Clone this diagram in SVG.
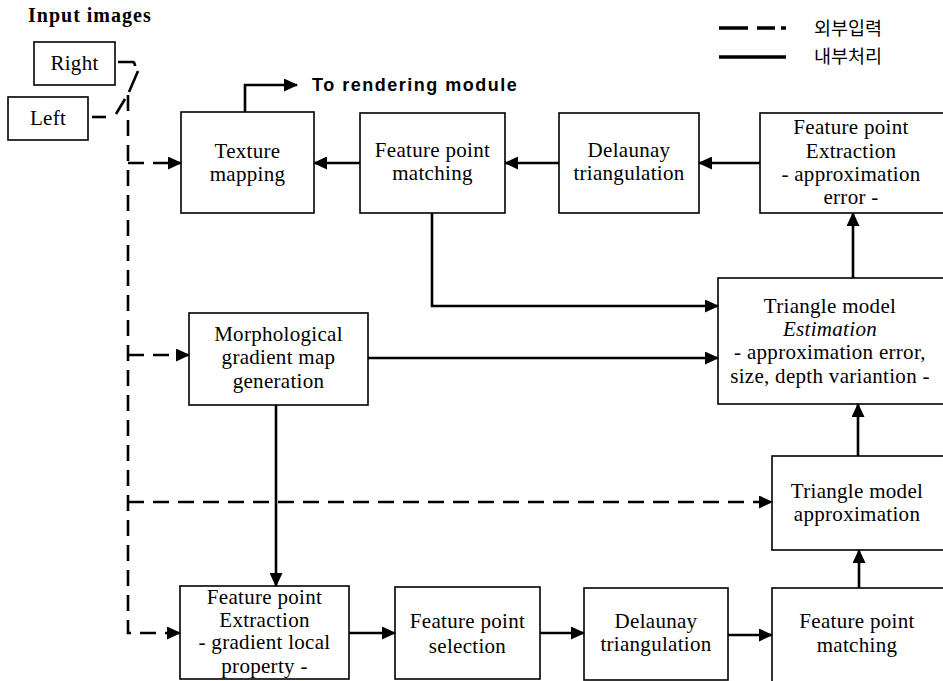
<svg xmlns="http://www.w3.org/2000/svg" width="943" height="681" viewBox="0 0 943 681">
<defs>
<style>
.box{fill:#fff;stroke:#000;stroke-width:1.6}
.t{font-family:"Liberation Serif","Times New Roman",serif;font-size:21px;letter-spacing:0.3px;fill:#000;text-anchor:middle}
.c{fill:none;stroke:#000;stroke-width:2.6}
.d{fill:none;stroke:#000;stroke-width:2.6;stroke-dasharray:16 9}
.ko{font-family:"Noto Sans CJK KR",sans-serif;font-size:18.5px;fill:#000}
</style>
<marker id="ah" viewBox="0 0 14 13" refX="13" refY="6.5" markerWidth="14" markerHeight="13" markerUnits="userSpaceOnUse" orient="auto">
<path d="M0,0 L14,6.5 L0,13 z" fill="#000"/>
</marker>
</defs>
<rect width="943" height="681" fill="#fff"/>

<text x="28" y="22" font-family="Liberation Serif,serif" font-weight="bold" font-size="20" letter-spacing="1">Input images</text>
<text x="312" y="91" font-family="Liberation Sans,Arial,sans-serif" font-weight="bold" font-size="18" letter-spacing="1.5">To rendering module</text>

<g id="legend">
<path d="M719,28 H748 M757,28 H775 M781,28 H786" stroke="#000" stroke-width="3.4" fill="none"/>
<path d="M719,57 H786" stroke="#000" stroke-width="3.4" fill="none"/>
<text class="ko" x="814" y="35">외부입력</text>
<text class="ko" x="814" y="63">내부처리</text>
</g>

<g id="right"><rect class="box" x="34" y="42" width="81" height="43"/><text class="t" x="74.5" y="70">Right</text></g>
<g id="left"><rect class="box" x="8" y="97" width="80" height="43"/><text class="t" x="48" y="125">Left</text></g>

<g id="texture"><rect class="box" x="181" y="112" width="133" height="101"/>
<text class="t" x="247.5" y="158">Texture</text><text class="t" x="247.5" y="181">mapping</text></g>

<g id="fpm-top"><rect class="box" x="360" y="113" width="145" height="100"/>
<text class="t" x="432.5" y="157">Feature point</text><text class="t" x="432.5" y="180">matching</text></g>

<g id="dt-top"><rect class="box" x="559" y="113" width="140" height="100"/>
<text class="t" x="629" y="157">Delaunay</text><text class="t" x="629" y="180">triangulation</text></g>

<g id="fpe-top"><rect class="box" x="760" y="113" width="200" height="100"/>
<text class="t" x="851" y="134">Feature point</text><text class="t" x="851" y="158">Extraction</text>
<text class="t" x="851" y="181">- approximation</text><text class="t" x="851" y="204">error -</text></g>

<g id="tme"><rect class="box" x="718" y="278" width="240" height="126"/>
<text class="t" x="830" y="313">Triangle model</text><text class="t" x="830" y="336" font-style="italic">Estimation</text>
<text class="t" x="830" y="359">- approximation error,</text><text class="t" x="830" y="383">size, depth variantion -</text></g>

<g id="morph"><rect class="box" x="189" y="313" width="179" height="92"/>
<text class="t" x="278.5" y="341">Morphological</text><text class="t" x="278.5" y="364">gradient map</text><text class="t" x="278.5" y="388">generation</text></g>

<g id="tma"><rect class="box" x="772" y="456" width="190" height="94"/>
<text class="t" x="857" y="498">Triangle model</text><text class="t" x="857" y="521">approximation</text></g>

<g id="fpe-bot"><rect class="box" x="180" y="586" width="169" height="93"/>
<text class="t" x="264.5" y="604">Feature point</text><text class="t" x="264.5" y="627">Extraction</text>
<text class="t" x="264.5" y="649">- gradient local</text><text class="t" x="264.5" y="673">property -</text></g>

<g id="fps"><rect class="box" x="395" y="587" width="145" height="92"/>
<text class="t" x="467.5" y="628">Feature point</text><text class="t" x="467.5" y="653">selection</text></g>

<g id="dt-bot"><rect class="box" x="584" y="588" width="144" height="92"/>
<text class="t" x="656" y="628">Delaunay</text><text class="t" x="656" y="651">triangulation</text></g>

<g id="fpm-bot"><rect class="box" x="772" y="588" width="190" height="100"/>
<text class="t" x="857" y="628">Feature point</text><text class="t" x="857" y="652">matching</text></g>

<g id="connectors">
<path d="M118,62 H133 Q135,63 135,66" class="c"/>
<path d="M138,71 L129,92" class="c"/>
<path d="M125,99 L116,114" class="c"/>
<path d="M92,117 H106" class="c"/>
<path d="M128,95 V633 H180" class="d" marker-end="url(#ah)"/>
<path d="M128,163 H181" class="d" marker-end="url(#ah)"/>
<path d="M128,355 H189" class="d" marker-end="url(#ah)"/>
<path d="M128,502 H772" class="d" marker-end="url(#ah)"/>
<path d="M245,112 V85 H297" class="c" marker-end="url(#ah)"/>
<path d="M360,163 H314" class="c" marker-end="url(#ah)"/>
<path d="M559,163 H505" class="c" marker-end="url(#ah)"/>
<path d="M760,163 H699" class="c" marker-end="url(#ah)"/>
<path d="M853,278 V213" class="c" marker-end="url(#ah)"/>
<path d="M432,213 V306 H718" class="c" marker-end="url(#ah)"/>
<path d="M368,358 H718" class="c" marker-end="url(#ah)"/>
<path d="M276,405 V586" class="c" marker-end="url(#ah)"/>
<path d="M858,456 V404" class="c" marker-end="url(#ah)"/>
<path d="M859,588 V550" class="c" marker-end="url(#ah)"/>
<path d="M349,633 H395" class="c" marker-end="url(#ah)"/>
<path d="M540,633 H584" class="c" marker-end="url(#ah)"/>
<path d="M728,635 H772" class="c" marker-end="url(#ah)"/>
</g>
</svg>
